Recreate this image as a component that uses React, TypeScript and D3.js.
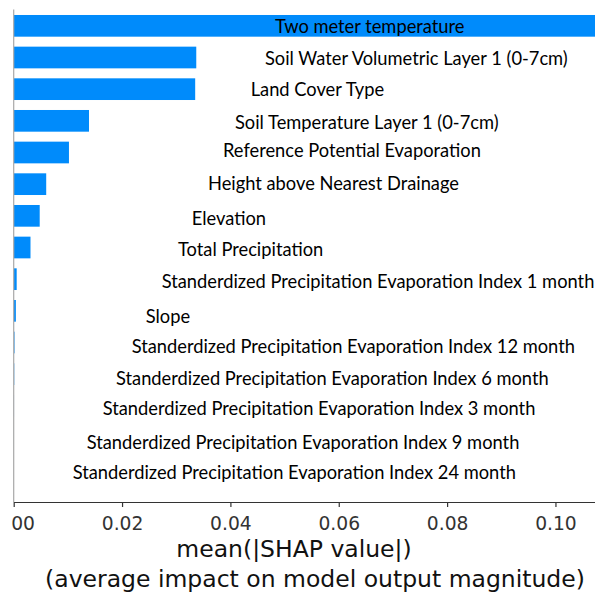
import { useEffect, useRef } from "react";
import * as d3 from "d3";

const FEATURES = [
  "Two meter temperature",
  "Soil Water Volumetric Layer 1 (0-7cm)",
  "Land Cover Type",
  "Soil Temperature Layer 1 (0-7cm)",
  "Reference Potential Evaporation",
  "Height above Nearest Drainage",
  "Elevation",
  "Total Precipitation",
  "Standerdized Precipitation Evaporation Index 1 month",
  "Slope",
  "Standerdized Precipitation Evaporation Index 12 month",
  "Standerdized Precipitation Evaporation Index 6 month",
  "Standerdized Precipitation Evaporation Index 3 month",
  "Standerdized Precipitation Evaporation Index 9 month",
  "Standerdized Precipitation Evaporation Index 24 month",
];

const MEAN_ABS_SHAP = [
  0.118, 0.0337, 0.0335, 0.0139, 0.0102, 0.006, 0.0048, 0.0031,
  0.00055, 0.0004, 0.00015, 0.0001, 0.00006, 0.00004, 0.00002,
];

const X_TICKS = [0, 0.02, 0.04, 0.06, 0.08, 0.1];

// layout of the hand-placed feature labels (px): left edge, and nudge from the bar centre
const LABEL_LEFT = [275, 265, 250.7, 235, 223, 208, 191.7, 178, 161.7, 145.7, 131.7, 116, 102.7, 86.7, 72.7];
const LABEL_NUDGE = [0.2, 0, -0.1, 1.4, -2.2, -0.9, 2.2, 1.2, 2.3, 5.2, 3.3, 3.6, 2.5, 4.2, 2.5];

const W = 595;
const H = 593;

export default function App() {
  const ref = useRef<SVGSVGElement | null>(null);

  useEffect(() => {
    if (!ref.current) return;
    const svg = d3.select(ref.current);
    svg.selectAll("*").remove();

    const left = 13.7;
    const axisY = 502;
    const x = d3.scaleLinear().domain([0, 0.1073]).range([left, W]);
    const y = d3.scaleBand<number>()
      .domain(d3.range(FEATURES.length))
      .range([10, 485]);
    const barH = y.bandwidth() * 0.685;

    const defs = svg.append("defs");
    defs.append("clipPath").attr("id", "plot")
      .append("rect").attr("x", left).attr("y", 0).attr("width", W - left).attr("height", axisY);
    // the source image is cropped a few pixels left of the axis
    defs.append("clipPath").attr("id", "crop")
      .append("rect").attr("x", 11).attr("y", 0).attr("width", W).attr("height", H);

    svg.append("g").attr("clip-path", "url(#plot)")
      .selectAll("rect")
      .data(MEAN_ABS_SHAP)
      .join("rect")
      .attr("x", x(0))
      .attr("y", (_, i) => (y(i) || 0) + (y.bandwidth() - barH) / 2)
      .attr("width", d => x(d) - x(0))
      .attr("height", barH)
      .attr("fill", "#008bfb");

    // left spine
    svg.append("line")
      .attr("x1", left).attr("x2", left)
      .attr("y1", 9.5).attr("y2", axisY)
      .attr("stroke", "#a8a8a8").attr("stroke-width", 1.2);

    // feature labels
    svg.append("g")
      .selectAll("text")
      .data(FEATURES)
      .join("text")
      .attr("x", (_, i) => LABEL_LEFT[i])
      .attr("y", (_, i) => (y(i) || 0) + y.bandwidth() / 2 + LABEL_NUDGE[i])
      .attr("dominant-baseline", "central")
      .style("font-family", "Lato, 'Open Sans', sans-serif")
      .style("font-size", "18.3px")
      .style("fill", "#000")
      .text(d => d);

    // bottom axis
    const ax = svg.append("g")
      .attr("transform", `translate(0,${axisY})`)
      .attr("clip-path", "url(#crop)")
      .call(d3.axisBottom(x).tickValues(X_TICKS).tickFormat(d3.format(".2f")).tickSize(5).tickSizeOuter(0));
    ax.select(".domain").attr("stroke", "#333").attr("stroke-width", 1.2);
    ax.selectAll(".tick line").attr("stroke", "#333").attr("stroke-width", 1.2);
    ax.selectAll(".tick text")
      .attr("y", 28)
      .attr("dy", 0)
      .style("font-family", "'DejaVu Sans', sans-serif")
      .style("font-size", "18.7px")
      .style("fill", "#333");

    svg.append("text")
      .attr("x", 294).attr("y", 557)
      .attr("text-anchor", "middle")
      .style("font-family", "'DejaVu Sans', sans-serif")
      .style("font-size", "23.5px")
      .style("fill", "#111")
      .text("mean(|SHAP value|)");
    svg.append("text")
      .attr("x", 315).attr("y", 587)
      .attr("text-anchor", "middle")
      .style("font-family", "'DejaVu Sans', sans-serif")
      .style("font-size", "23.5px")
      .style("fill", "#111")
      .text("(average impact on model output magnitude)");
  }, []);

  return (
    <svg
      ref={ref}
      width={W}
      height={H}
      style={{ position: "absolute", left: 0, top: 0, background: "#fff" }}
    />
  );
}
